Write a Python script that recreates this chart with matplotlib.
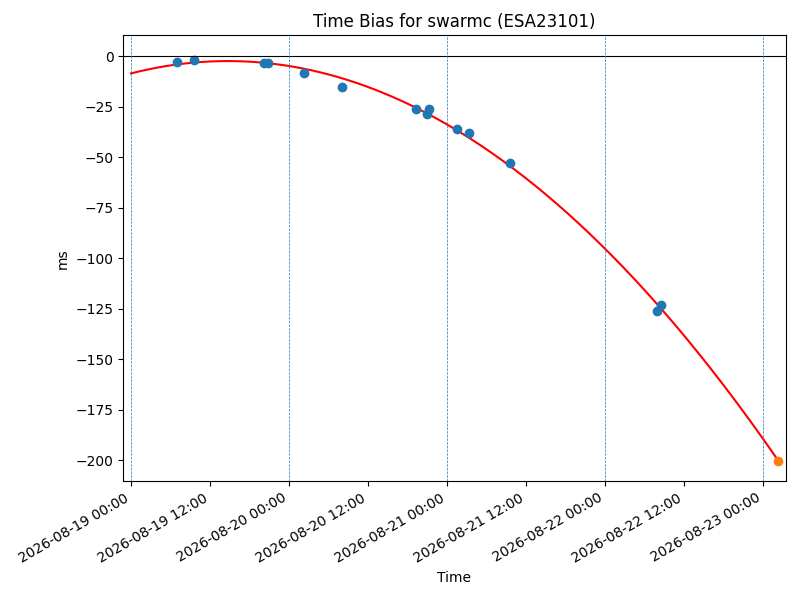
import numpy as np
import pandas as pd
import matplotlib
matplotlib.use("Agg")
import matplotlib.pyplot as plt
import matplotlib.dates as mdates

# Measured time bias (ms)
obs_times = ["2026-08-19 07:00", "2026-08-19 09:35", "2026-08-19 20:11", "2026-08-19 20:44",
             "2026-08-20 02:18", "2026-08-20 07:59", "2026-08-20 19:20", "2026-08-20 20:55",
             "2026-08-20 21:13", "2026-08-21 01:34", "2026-08-21 03:21", "2026-08-21 09:37",
             "2026-08-22 07:58", "2026-08-22 08:32"]
obs_bias = [-2.8, -2.1, -3.6, -3.6, -8.5, -15.5, -26.3, -28.5, -26.3, -36.2, -38.1, -53.0,
            -126.0, -123.2]

# Predicted point
pred_time = "2026-08-23 02:22"
pred_bias = -200.3

fit_start = "2026-08-19 00:00"
day_lines = ["2026-08-19", "2026-08-20", "2026-08-21", "2026-08-22", "2026-08-23"]

t_obs = pd.to_datetime(obs_times)
t_pred = pd.Timestamp(pred_time)
t0 = pd.Timestamp(fit_start)

# quadratic fit through observations + prediction end point
days_obs = (t_obs - t0) / pd.Timedelta(days=1)
days_pred = (t_pred - t0) / pd.Timedelta(days=1)
coef = np.polyfit(np.append(days_obs, days_pred), np.append(obs_bias, pred_bias), 2)
grid = np.linspace(0, days_pred, 300)
t_grid = t0 + pd.to_timedelta(grid, unit="D")

fig = plt.figure(figsize=(8, 6), dpi=100)
ax = fig.add_subplot(111)
fig.subplots_adjust(left=0.154, right=0.982, top=0.941, bottom=0.198)

ax.plot(t_grid, np.polyval(coef, grid), color="red", lw=1.5)
ax.plot(t_obs, obs_bias, "o", color="C0")
ax.plot([t_pred], [pred_bias], "o", color="C1")
ax.axhline(0, color="black", lw=0.8)
for d in day_lines:
    ax.axvline(pd.Timestamp(d), color="C0", ls="--", lw=0.5)

ax.set_xlim(t0 - pd.Timedelta(hours=1.2), t_pred + pd.Timedelta(hours=1.1))
ax.set_ylim(-210.3, 10.2)
ax.xaxis.set_major_locator(mdates.HourLocator(byhour=[0, 12]))
ax.xaxis.set_major_formatter(mdates.DateFormatter("%Y-%m-%d %H:%M"))
for lbl in ax.get_xticklabels():
    lbl.set_rotation(30)
    lbl.set_ha("right")
ax.set_title("Time Bias for swarmc (ESA23101)")
ax.set_xlabel("Time")
ax.set_ylabel("ms")

fig.savefig("out.png", dpi=100)
